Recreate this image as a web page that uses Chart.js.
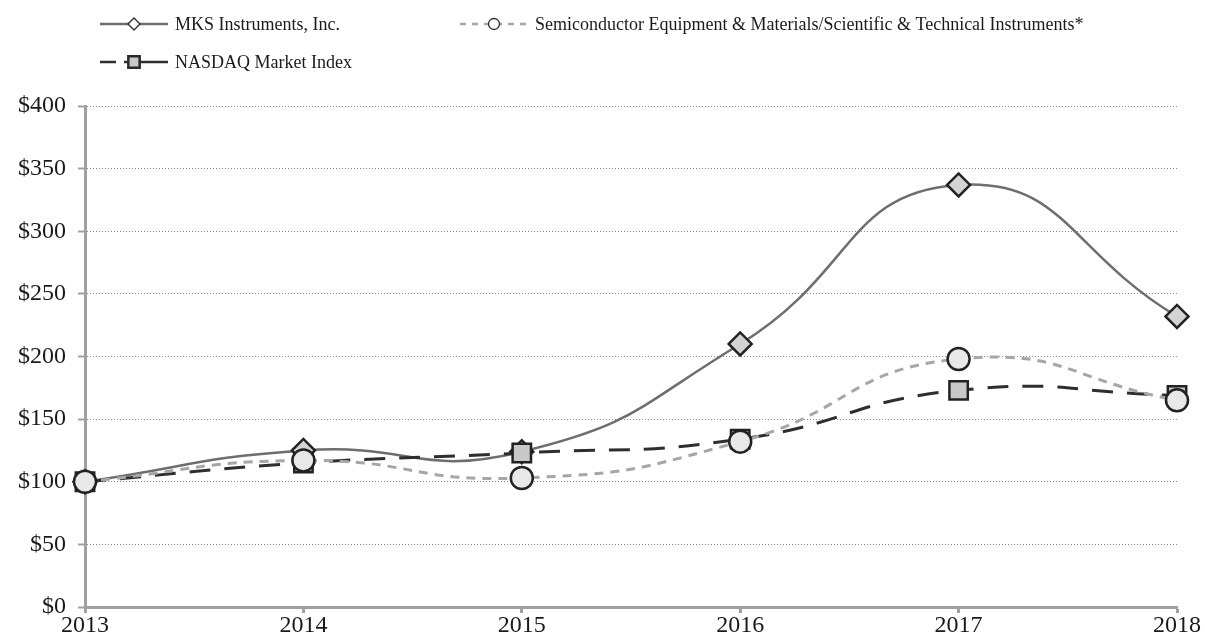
<!DOCTYPE html>
<html>
<head>
<meta charset="utf-8">
<script src="https://cdn.jsdelivr.net/npm/chart.js@4/dist/chart.umd.min.js"></script>
<style>
  html, body { margin: 0; padding: 0; background: #fff; }
  #wrap { width: 1205px; height: 639px; }
</style>
</head>
<body>
<div id="wrap"><canvas id="grafico" width="1205" height="639"></canvas></div>
<script>
// dados
const anos = ['2013', '2014', '2015', '2016', '2017', '2018'];
const mks = [100, 125, 124, 210, 337, 232];
const semicondutores = [100, 117, 103, 132, 198, 165];
const nasdaq = [100, 115, 123, 134, 173, 169];
const yTicks = [0, 50, 100, 150, 200, 250, 300, 350, 400];

const nomes = [
    'MKS Instruments, Inc.',
    'Semiconductor Equipment & Materials/Scientific & Technical Instruments*',
    'NASDAQ Market Index'
];

const fonte = '"Liberation Serif", "Times New Roman", serif';

// legenda desenhada à mão (duas linhas, como no original)
const legendaPlugin = {
    id: 'legendaManual',
    afterDraw(chart) {
        const ctx = chart.ctx;
        const itens = [
            { ds: 0, x: 100, y: 24, dash: [], marca: 'rectRot', r: 6, fill: '#fff', bw: 1.3 },
            { ds: 1, x: 460, y: 24, dash: [6, 6], marca: 'circle', r: 5.5, fill: '#fff', bw: 1.3 },
            { ds: 2, x: 100, y: 62, dash: [16, 8, 45], marca: 'rect', r: 8, fill: '#c8c8c8', bw: 2.5 }
        ];
        ctx.save();
        itens.forEach(it => {
            const ds = chart.data.datasets[it.ds];
            ctx.beginPath();
            ctx.setLineDash(it.dash);
            ctx.strokeStyle = ds.borderColor;
            ctx.lineWidth = 2.5;
            ctx.moveTo(it.x, it.y);
            ctx.lineTo(it.x + 68, it.y);
            ctx.stroke();
            ctx.setLineDash([]);
            ctx.fillStyle = it.fill;
            ctx.strokeStyle = '#2a2a2a';
            ctx.lineWidth = it.bw;
            Chart.helpers.drawPoint(ctx, { pointStyle: it.marca, radius: it.r, rotation: 0, borderWidth: it.bw }, it.x + 34, it.y);
            ctx.fillStyle = '#1a1a1a';
            ctx.font = '18px ' + fonte;
            ctx.textBaseline = 'middle';
            ctx.textAlign = 'left';
            ctx.fillText(nomes[it.ds], it.x + 75, it.y + 1);
        });
        ctx.restore();
    }
};

const grafico = document.querySelector('#grafico');
new Chart(grafico, {
    type: 'line',
    data: {
        labels: anos,
        datasets: [{
            label: nomes[0],
            data: mks,
            borderColor: '#6e6e6e',
            borderWidth: 2.5,
            pointStyle: 'rectRot',
            pointRadius: 11.5,
            pointBackgroundColor: '#d3d3d3',
            pointBorderColor: '#222',
            pointBorderWidth: 2.5,
            order: 3,
        }, {
            label: nomes[1],
            data: semicondutores,
            borderColor: '#a6a6a6',
            borderWidth: 3,
            borderDash: [9, 7],
            pointStyle: 'circle',
            pointRadius: 11,
            pointBackgroundColor: '#e8e8e8',
            pointBorderColor: '#222',
            pointBorderWidth: 2.5,
            order: 1,
        }, {
            label: nomes[2],
            data: nasdaq,
            borderColor: '#2e2e2e',
            borderWidth: 3,
            borderDash: [21, 14],
            pointStyle: 'rect',
            pointRadius: 13,
            pointBackgroundColor: '#c8c8c8',
            pointBorderColor: '#222',
            pointBorderWidth: 2.5,
            order: 2,
        }].map(d => Object.assign(d, { tension: 0.5, fill: false, clip: false, pointHoverRadius: d.pointRadius })),
    },
    options: {
        responsive: false,
        animation: false,
        events: [],
        layout: {
            padding: { top: 106, right: 28, left: 0, bottom: 0 }
        },
        plugins: {
            legend: { display: false },
            tooltip: { enabled: false },
            title: { display: false },
        },
        scales: {
            x: {
                offset: false,
                grid: {
                    drawOnChartArea: false,
                    drawTicks: true,
                    tickLength: 6,
                    tickColor: '#a0a0a0',
                    tickWidth: 3,
                },
                border: { color: '#a0a0a0', width: 3 },
                ticks: {
                    padding: 1,
                    color: '#1a1a1a',
                    maxRotation: 0,
                    font: { family: fonte, size: 24, lineHeight: 1 },
                },
            },
            y: {
                min: 0,
                max: 400,
                afterBuildTicks: scale => { scale.ticks = yTicks.map(v => ({ value: v })); },
                afterFit: scale => { scale.width = 85; },
                grid: {
                    color: '#8c8c8c',
                    lineWidth: 1,
                    tickLength: 7,
                    tickColor: '#a0a0a0',
                    tickWidth: 2,
                    tickBorderDash: [],
                },
                // em v4, border.dash pontilha as linhas de grade
                border: { color: '#a0a0a0', width: 3, dash: [1, 2] },
                ticks: {
                    padding: 12,
                    color: '#1a1a1a',
                    font: { family: fonte, size: 24 },
                    callback: v => '$' + v,
                },
            },
        },
    },
    plugins: [legendaPlugin],
});
</script>
</body>
</html>
